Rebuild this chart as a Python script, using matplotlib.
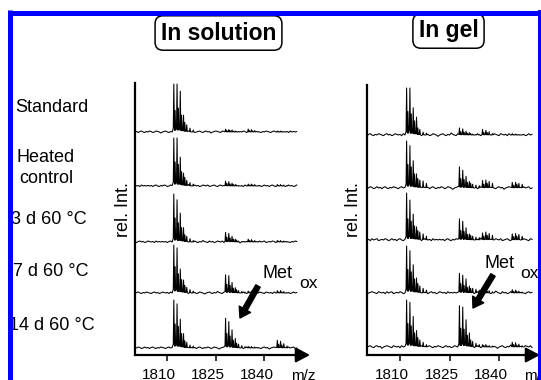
import numpy as np
import matplotlib.pyplot as plt
from matplotlib.lines import Line2D
from matplotlib.patches import FancyArrowPatch

plt.rcParams['font.family'] = ['Liberation Sans', 'DejaVu Sans']

# labels
panels = ["In solution", "In gel"]
conditions = ["Standard", "Heated\ncontrol", "3 d 60 °C", "7 d 60 °C", "14 d 60 °C"]
xticks = [1810, 1825, 1840]

# isotope peak positions (m/z) of each cluster
main_mz = [1812.0, 1812.4, 1813.0, 1813.4, 1814.0, 1814.4, 1815.0, 1815.4, 1816.0, 1817.0, 1818.0]
ox_mz = [1828.0, 1828.4, 1829.0, 1829.4, 1830.0, 1830.4, 1831.0, 1831.4, 1832.0, 1833.0, 1834.0]
add_mz = [1835.0, 1835.4, 1836.0, 1836.4, 1837.0, 1838.0]
ox2_mz = [1844.0, 1844.4, 1845.0, 1845.4, 1846.0, 1847.0]

# relative intensities, rows: Standard, Heated control, 3 d, 7 d, 14 d
sol_main = [
    [1.0, 0.45, 1.0, 0.5, 0.85, 0.35, 0.35, 0.2, 0.15, 0.08, 0.04],
    [1.0, 0.5, 1.0, 0.45, 0.6, 0.3, 0.27, 0.18, 0.12, 0.07, 0.04],
    [1.0, 0.5, 0.88, 0.4, 0.6, 0.3, 0.3, 0.15, 0.12, 0.07, 0.03],
    [1.0, 0.55, 0.94, 0.4, 0.5, 0.28, 0.27, 0.16, 0.12, 0.07, 0.04],
    [1.0, 0.5, 0.92, 0.45, 0.6, 0.3, 0.3, 0.15, 0.12, 0.06, 0.04],
]
sol_ox = [
    [0.06, 0.03, 0.05, 0.03, 0.04, 0.02, 0.02, 0.01, 0.01, 0.0, 0.0],
    [0.10, 0.05, 0.09, 0.04, 0.06, 0.03, 0.03, 0.02, 0.01, 0.01, 0.0],
    [0.20, 0.10, 0.18, 0.08, 0.12, 0.06, 0.06, 0.04, 0.02, 0.01, 0.01],
    [0.38, 0.18, 0.36, 0.16, 0.22, 0.10, 0.11, 0.07, 0.05, 0.03, 0.02],
    [0.62, 0.30, 0.55, 0.25, 0.38, 0.16, 0.2, 0.10, 0.08, 0.05, 0.03],
]
sol_add = [
    [0.06, 0.03, 0.05, 0.02, 0.03, 0.01],
    [0.04, 0.02, 0.04, 0.02, 0.03, 0.01],
    [0.06, 0.03, 0.05, 0.02, 0.03, 0.01],
    [0.04, 0.02, 0.04, 0.02, 0.02, 0.01],
    [0.03, 0.02, 0.03, 0.01, 0.02, 0.01],
]
sol_ox2 = [
    [0.02, 0.01, 0.02, 0.01, 0.01, 0.0],
    [0.03, 0.01, 0.03, 0.01, 0.02, 0.01],
    [0.03, 0.02, 0.03, 0.01, 0.02, 0.01],
    [0.05, 0.02, 0.05, 0.02, 0.03, 0.01],
    [0.16, 0.08, 0.14, 0.06, 0.09, 0.04],
]
gel_main = [
    [1.0, 0.5, 1.0, 0.45, 0.58, 0.3, 0.38, 0.15, 0.12, 0.06, 0.04],
    [1.0, 0.5, 0.9, 0.45, 0.58, 0.3, 0.3, 0.2, 0.17, 0.15, 0.1],
    [1.0, 0.45, 0.85, 0.4, 0.55, 0.3, 0.28, 0.2, 0.17, 0.13, 0.08],
    [1.0, 0.5, 0.9, 0.45, 0.6, 0.3, 0.32, 0.2, 0.15, 0.1, 0.06],
    [1.0, 0.5, 0.95, 0.45, 0.65, 0.3, 0.35, 0.2, 0.15, 0.1, 0.05],
]
gel_ox = [
    [0.15, 0.07, 0.13, 0.06, 0.08, 0.04, 0.05, 0.03, 0.02, 0.01, 0.01],
    [0.45, 0.2, 0.38, 0.18, 0.25, 0.12, 0.14, 0.1, 0.08, 0.06, 0.05],
    [0.45, 0.2, 0.40, 0.18, 0.26, 0.12, 0.13, 0.1, 0.08, 0.06, 0.05],
    [0.42, 0.2, 0.38, 0.16, 0.3, 0.12, 0.15, 0.1, 0.1, 0.08, 0.06],
    [0.88, 0.4, 0.85, 0.38, 0.58, 0.25, 0.3, 0.15, 0.12, 0.08, 0.05],
]
gel_add = [
    [0.12, 0.05, 0.1, 0.05, 0.07, 0.03],
    [0.16, 0.08, 0.17, 0.1, 0.14, 0.1],
    [0.15, 0.08, 0.17, 0.1, 0.14, 0.1],
    [0.08, 0.04, 0.07, 0.04, 0.05, 0.03],
    [0.05, 0.03, 0.05, 0.02, 0.03, 0.02],
]
gel_ox2 = [
    [0.03, 0.01, 0.02, 0.01, 0.01, 0.01],
    [0.12, 0.06, 0.12, 0.08, 0.1, 0.08],
    [0.13, 0.07, 0.14, 0.08, 0.12, 0.08],
    [0.07, 0.03, 0.06, 0.03, 0.04, 0.02],
    [0.1, 0.05, 0.09, 0.04, 0.06, 0.03],
]

# baseline wiggle (px), one value every 0.5 m/z from 1800
wiggle = [0, 0.5, -0.5, 0.5, 1, 0, -0.5, 0.5, 0, 1, 0.5, -0.5, 0, 1, 0.5, 0, -1, 0, 0.5, 1,
          0, -0.5, 0.5, 0, 1.5, 0.5, 0, -0.5, 1, 0, 0.5, -0.5, 0, 1, 0.5, 0, 1, -0.5, 0, 0.5,
          1, 0, -0.5, 0.5, 1, 0, 0.5, -1, 0, 0.5, 1, 0.5, 0, -0.5, 1, 0.5, 0, 0.5, -0.5, 1,
          0, 0.5, 1, -0.5, 0, 0.5, 0, 1, 0.5, -0.5, 0, 1, 0, 0.5, -0.5, 0.5, 1, 0, -0.5, 0.5,
          0, 1, 0.5, 0, -0.5, 0.5, 1, 0, 0.5, -0.5, 0, 1, 0.5, 0, 0.5, -0.5, 1, 0, 0.5, 0, 0.5]

W, H = 541, 380


def fx(x):
    return x / W


def fy(y):
    return 1 - y / H


def build_trace(k, heights, mzs, scale, amp, base):
    peaks = [(m, h) for ms, hs in zip(mzs, heights) for m, h in zip(ms, hs) if h > 0]
    pos = np.array([p[0] for p in peaks])
    noise = np.roll(np.array(wiggle, dtype=float), 9 * k) * amp
    pts = []
    for i, v in enumerate(noise):
        m = 1800 + 0.5 * i
        if np.min(np.abs(pos - m)) > 0.3:
            pts.append((m, v))
    for m, h in peaks:
        pts += [(m - 0.17, 0.08 * h * scale), (m, h * scale), (m + 0.17, 0.08 * h * scale)]
    pts.sort()
    xs = np.array([p[0] for p in pts])
    ys = np.array([p[1] for p in pts]) + base
    return xs, ys


fig = plt.figure(figsize=(5.41, 3.80), dpi=100)

# panel geometry in pixels: left, right(arrow tip), top, bottom
geom = [(135, 310, 83, 355), (367, 540, 85, 355)]
xmaxes = [1854.1, 1852.4]
offsets = [[223, 169, 113, 62, 7], [220, 167, 115, 62, 8]]
scales = [48, 47]
amps = [1.0, 1.3]
data = [(sol_main, sol_ox, sol_add, sol_ox2), (gel_main, gel_ox, gel_add, gel_ox2)]

for p in range(2):
    l, r, t, b = geom[p]
    ax = fig.add_axes([fx(l), fy(b), (r - l) / W, (b - t) / H])
    ax.patch.set_visible(False)
    ax.set_xlim(1800, xmaxes[p])
    ax.set_ylim(0, b - t)
    for s in ['top', 'right', 'bottom']:
        ax.spines[s].set_visible(False)
    ax.spines['left'].set_linewidth(1.6)
    ax.set_yticks([])
    ax.set_xticks(xticks)
    ax.tick_params(axis='x', direction='out', length=4.3, width=1.1, labelbottom=False)
    ax.annotate('', xy=(1, 0), xytext=(0, 0), xycoords='axes fraction',
                arrowprops=dict(arrowstyle='-|>,head_length=0.85,head_width=0.45',
                                lw=1.6, color='black', mutation_scale=10,
                                shrinkA=0, shrinkB=0), annotation_clip=False)
    for tv in xticks:
        ax.annotate(str(tv), xy=(tv, 0), xycoords=('data', 'axes fraction'),
                    xytext=(-8, -13), textcoords='offset pixels',
                    ha='center', va='top', fontsize=11, annotation_clip=False)
    mains, oxs, adds, ox2s = data[p]
    for k in range(5):
        xs, ys = build_trace(k + 3 * p, [mains[k], oxs[k], adds[k], ox2s[k]],
                             [main_mz, ox_mz, add_mz, ox2_mz],
                             scales[p], amps[p], offsets[p][k])
        ax.plot(xs, ys, color='black', lw=0.75)

# panel titles
fig.text(fx(218.5), fy(33), panels[0], ha='center', va='center', fontsize=16.5,
         fontweight='bold',
         bbox=dict(boxstyle='round,pad=0.25,rounding_size=0.35', fc='white', ec='black', lw=1.1))
fig.text(fx(448.5), fy(31), panels[1], ha='center', va='center', fontsize=16.5,
         fontweight='bold',
         bbox=dict(boxstyle='round,pad=0.25,rounding_size=0.35', fc='white', ec='black', lw=1.1))

# y labels
fig.text(fx(123), fy(210), 'rel. Int.', rotation=90, ha='center', va='center', fontsize=13)
fig.text(fx(353), fy(210), 'rel. Int.', rotation=90, ha='center', va='center', fontsize=13)

# m/z labels
fig.text(fx(303), fy(376), 'm/z', ha='center', va='center', fontsize=11)
fig.text(fx(536), fy(376), 'm/z', ha='center', va='center', fontsize=11)

# row labels
fig.text(fx(15), fy(107), conditions[0], ha='left', va='center', fontsize=13)
fig.text(fx(46), fy(168), conditions[1], ha='center', va='center', fontsize=13,
         linespacing=1.3)
fig.text(fx(11), fy(220), conditions[2], ha='left', va='center', fontsize=13)
fig.text(fx(13), fy(272), conditions[3], ha='left', va='center', fontsize=13)
fig.text(fx(9), fy(325), conditions[4], ha='left', va='center', fontsize=13)

# Met ox annotations
for mx, my, ox_x, ox_y, tail, tip in [(262, 273, 299, 283, (258, 286), (240, 318)),
                                      (484, 264, 520, 273, (493, 275), (473, 308))]:
    fig.text(fx(mx), fy(my), 'Met', ha='left', va='center', fontsize=13)
    fig.text(fx(ox_x), fy(ox_y), 'ox', ha='left', va='center', fontsize=12.5)
    fig.add_artist(FancyArrowPatch((fx(tail[0]), fy(tail[1])), (fx(tip[0]), fy(tip[1])),
                                   transform=fig.transFigure,
                                   arrowstyle='simple,head_length=1.0,head_width=1.3,tail_width=0.5',
                                   mutation_scale=7.2, color='black', shrinkA=0, shrinkB=0))

# blue frame
blue = '#0000ff'
for xs, ys, w, c in [([9.5, 541], [12.5, 12.5], 5, blue),
                     ([9.5, 9.5], [10, 380], 5, blue),
                     ([539.5, 539.5], [10, 380], 4, blue),
                     ([9.5, 541], [379.5, 379.5], 1, '#7070ff')]:
    fig.add_artist(Line2D([fx(x) for x in xs], [fy(y) for y in ys],
                          transform=fig.transFigure, color=c, lw=w * 0.72,
                          solid_capstyle='butt', zorder=10))

fig.savefig('out.png', dpi=100)
